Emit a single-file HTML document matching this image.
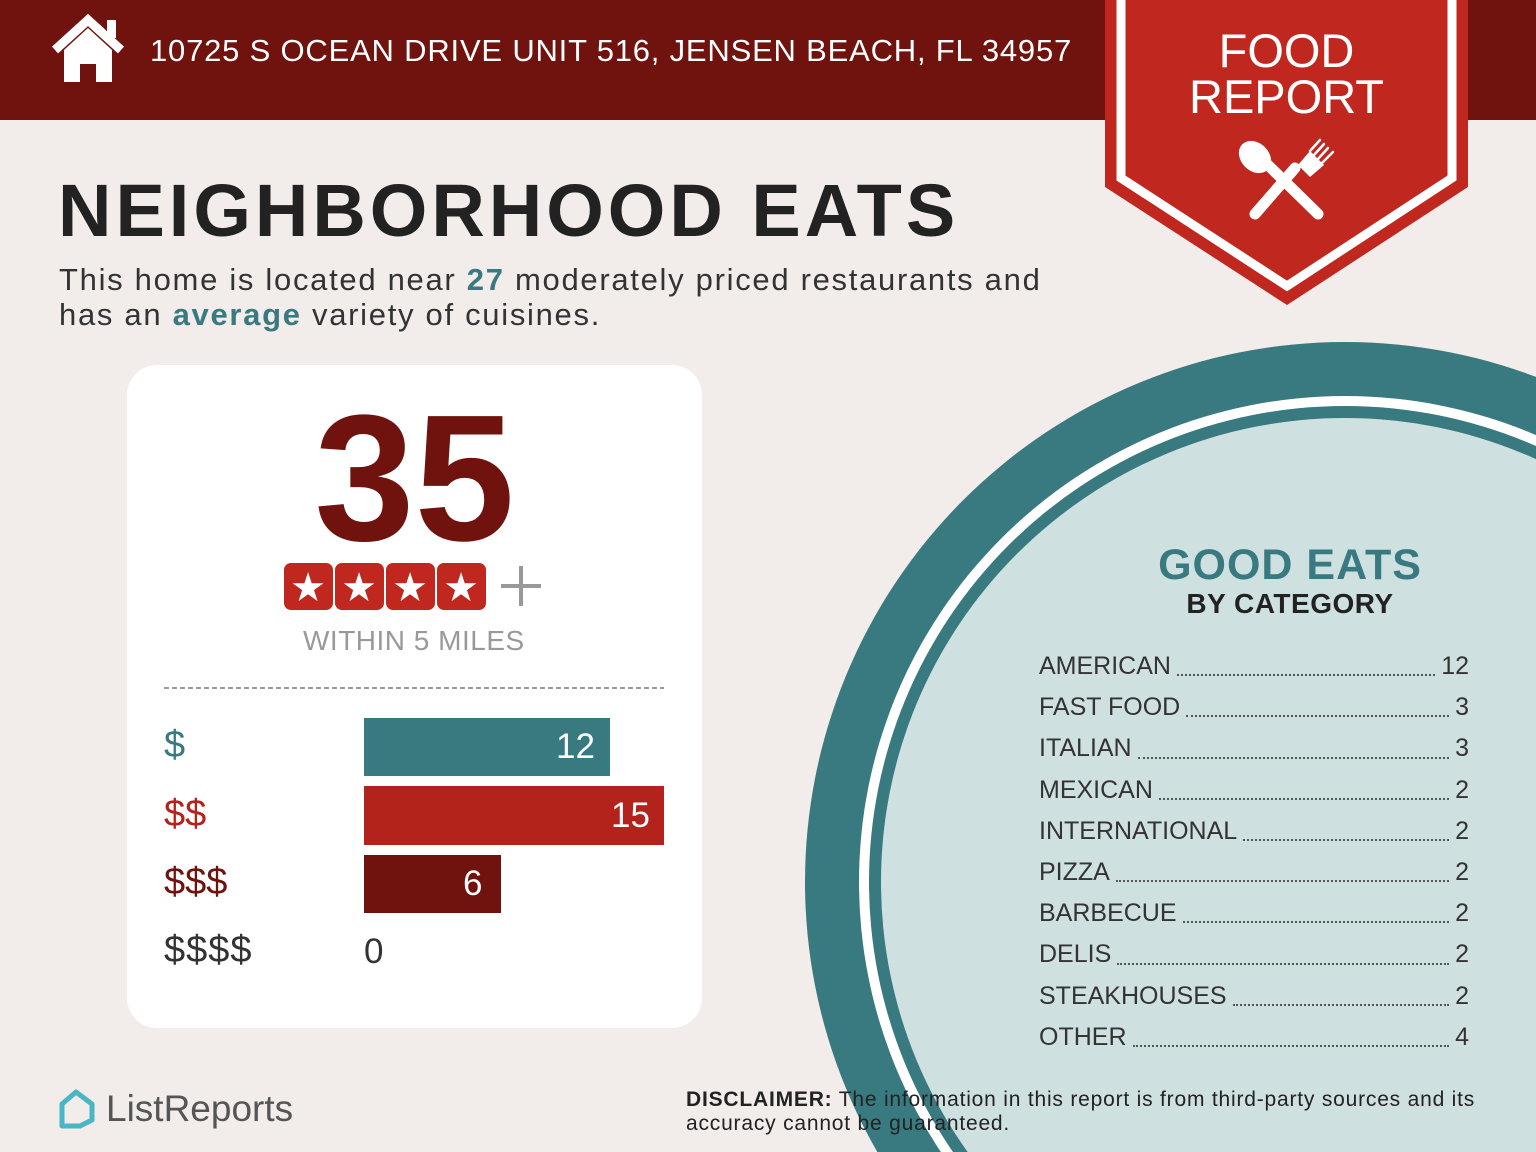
<!DOCTYPE html>
<html><head><meta charset="utf-8"><style>
html,body{margin:0;width:1536px;height:1152px;overflow:hidden}
body{background:#f2ecea;font-family:"Liberation Sans",sans-serif;position:relative}
.a{position:absolute;white-space:nowrap}
</style></head><body>
<svg class="a" style="left:0;top:0" width="1536" height="1152">
<rect x="0" y="0" width="1536" height="120" fill="#70130e"/>
<circle cx="1345" cy="882" r="540" fill="#387a80"/>
<circle cx="1345" cy="882" r="486" fill="#fff"/>
<circle cx="1345" cy="882" r="476" fill="#387a80"/>
<circle cx="1345" cy="882" r="464" fill="#cfe0e0"/>
<polygon points="1105,0 1468,0 1468,187 1287,305 1105,187" fill="#c0271f"/>
<polyline points="1121,0 1121,178 1287,286 1452,178 1452,0" fill="none" stroke="#fff" stroke-width="9"/>
<g stroke="#fff" stroke-linecap="round" fill="#fff">
<line x1="1255" y1="214" x2="1295" y2="168" stroke-width="11"/>
<line x1="1318" y1="214" x2="1268" y2="165" stroke-width="11"/>
<ellipse cx="1255" cy="157" rx="14" ry="18" transform="rotate(-45 1255 157)" stroke="none"/>
<path d="M1298 165 l12-14 l14 14 l-14 12z" stroke="none"/>
<g stroke-width="2.5"><line x1="1310" y1="151" x2="1320" y2="140"/><line x1="1314" y1="155" x2="1324" y2="144"/><line x1="1318" y1="159" x2="1328" y2="148"/><line x1="1322" y1="163" x2="1333" y2="152"/></g>
</g>
<path d="M55 50 L88 20 L121 50" fill="none" stroke="#fff" stroke-width="9" stroke-linejoin="miter"/>
<rect x="107" y="20" width="9" height="18" fill="#fff"/>
<path d="M64 50 L88 28 L112 50 V82 H96 V64 H80 V82 H64Z" fill="#fff"/>
<rect x="127" y="365" width="575" height="663" rx="30" fill="#fff"/>
<line x1="164" y1="688" x2="664" y2="688" stroke="#999" stroke-width="2" stroke-dasharray="5,3"/>
<rect x="364" y="718" width="246" height="58" fill="#387a80"/>
<rect x="364" y="786" width="300" height="59" fill="#b3231c"/>
<rect x="364" y="855" width="137" height="58" fill="#70130e"/>
<g fill="#c0271f"><rect x="284" y="563" width="49" height="47" rx="7"/><rect x="335" y="563" width="49" height="47" rx="7"/><rect x="386" y="563" width="49" height="47" rx="7"/><rect x="437" y="563" width="49" height="47" rx="7"/></g>
<g fill="#fff" font-size="40" text-anchor="middle" font-family="DejaVu Sans"><text x="308" y="601">★</text><text x="359" y="601">★</text><text x="410" y="601">★</text><text x="461" y="601">★</text></g>
<path d="M521 566 V606 M501 586 H541" stroke="#999" stroke-width="4"/>
<path d="M62 1104 L76 1092 L92 1104 V1120 L80 1126 H62Z" fill="none" stroke="#4ab5c4" stroke-width="5" stroke-linejoin="round"/>
</svg>
<div class="a" style="left:150px;top:33px;font-size:31px;color:#fff;letter-spacing:0.8px">10725 S OCEAN DRIVE UNIT 516, JENSEN BEACH, FL 34957</div>
<div class="a" style="left:1105px;width:363px;top:28px;text-align:center;font-size:47px;line-height:46px;color:#fff">FOOD<br>REPORT</div>
<div class="a" style="left:58px;top:168px;font-size:74px;font-weight:bold;color:#222;letter-spacing:4px">NEIGHBORHOOD EATS</div>
<div class="a" style="left:59px;top:262px;font-size:31px;line-height:35px;color:#333;letter-spacing:1.7px">This home is located near <b style="color:#387a80">27</b> moderately priced restaurants and<br>has an <b style="color:#387a80">average</b> variety of cuisines.</div>
<div class="a" style="left:127px;width:575px;top:375px;text-align:center;font-size:180px;font-weight:bold;color:#70130e;letter-spacing:0px">35</div>
<div class="a" style="left:303px;top:625px;font-size:28px;color:#999;letter-spacing:0.5px">WITHIN 5 MILES</div>
<div class="a" style="left:164px;top:724px;font-size:38px;color:#387a80">$</div>
<div class="a" style="left:164px;top:793px;font-size:38px;color:#b3231c">$$</div>
<div class="a" style="left:164px;top:861px;font-size:38px;color:#70130e">$$$</div>
<div class="a" style="left:164px;top:929px;font-size:38px;color:#333;letter-spacing:1px">$$$$</div>
<div class="a" style="left:556px;top:727px;font-size:35px;color:#fff">12</div>
<div class="a" style="left:611px;top:796px;font-size:35px;color:#fff">15</div>
<div class="a" style="left:463px;top:864px;font-size:35px;color:#fff">6</div>
<div class="a" style="left:364px;top:932px;font-size:35px;color:#333">0</div>
<div class="a" style="left:1140px;width:300px;top:541px;text-align:center;font-size:43px;font-weight:bold;color:#387a80;letter-spacing:1px">GOOD EATS</div>
<div class="a" style="left:1140px;width:300px;top:588px;text-align:center;font-size:28px;font-weight:bold;color:#222;letter-spacing:0.5px">BY CATEGORY</div>
<div class="a" style="left:1039px;top:646px;width:430px;font-size:25px;color:#333;line-height:41.2px">
<div style="display:flex"><span>AMERICAN</span><span style="flex:1;border-bottom:2px dotted #555;margin:0 6px 11px"></span><span>12</span></div>
<div style="display:flex"><span>FAST FOOD</span><span style="flex:1;border-bottom:2px dotted #555;margin:0 6px 11px"></span><span>3</span></div>
<div style="display:flex"><span>ITALIAN</span><span style="flex:1;border-bottom:2px dotted #555;margin:0 6px 11px"></span><span>3</span></div>
<div style="display:flex"><span>MEXICAN</span><span style="flex:1;border-bottom:2px dotted #555;margin:0 6px 11px"></span><span>2</span></div>
<div style="display:flex"><span>INTERNATIONAL</span><span style="flex:1;border-bottom:2px dotted #555;margin:0 6px 11px"></span><span>2</span></div>
<div style="display:flex"><span>PIZZA</span><span style="flex:1;border-bottom:2px dotted #555;margin:0 6px 11px"></span><span>2</span></div>
<div style="display:flex"><span>BARBECUE</span><span style="flex:1;border-bottom:2px dotted #555;margin:0 6px 11px"></span><span>2</span></div>
<div style="display:flex"><span>DELIS</span><span style="flex:1;border-bottom:2px dotted #555;margin:0 6px 11px"></span><span>2</span></div>
<div style="display:flex"><span>STEAKHOUSES</span><span style="flex:1;border-bottom:2px dotted #555;margin:0 6px 11px"></span><span>2</span></div>
<div style="display:flex"><span>OTHER</span><span style="flex:1;border-bottom:2px dotted #555;margin:0 6px 11px"></span><span>4</span></div>
</div>
<div class="a" style="left:106px;top:1088px;font-size:37px;color:#555">ListReports</div>
<div class="a" style="left:686px;top:1088px;font-size:21px;line-height:24px;color:#222;letter-spacing:0.8px"><b>DISCLAIMER:</b> The information in this report is from third-party sources and its<br>accuracy cannot be guaranteed.</div>
</body></html>
